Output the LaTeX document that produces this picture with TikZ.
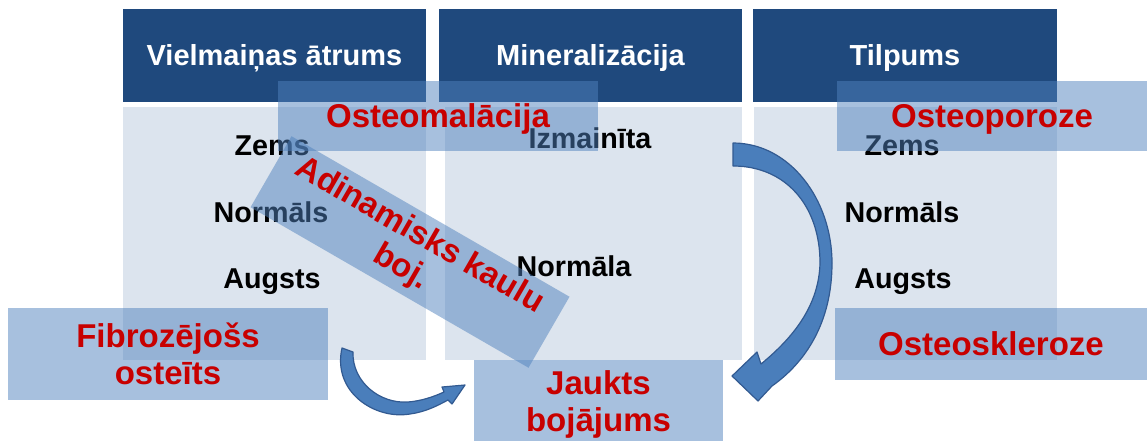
\documentclass[tikz,border=0pt]{standalone}
\usepackage{fontspec}
\setmainfont{Liberation Sans}
\definecolor{headblue}{RGB}{31,73,125}
\definecolor{bodyblue}{RGB}{220,228,238}
\definecolor{overblue}{RGB}{79,129,189}
\definecolor{txtred}{RGB}{200,0,0}
\definecolor{arrowblue}{RGB}{74,126,187}
\definecolor{arrowline}{RGB}{50,90,145}
\tikzset{
  head/.style={fill=headblue,text=white,font=\bfseries\fontsize{29}{34}\selectfont,
    minimum height=93pt,inner sep=0pt,text height=20.6pt,text depth=0pt},
  body/.style={fill=bodyblue,inner sep=0pt,minimum height=253pt},
  lbl/.style={font=\bfseries\fontsize{28.7}{34}\selectfont,text height=20.6pt,text depth=0pt,inner sep=0pt},
  sick/.style={fill=overblue,fill opacity=0.5,text opacity=1,text=txtred,
    font=\bfseries\fontsize{33}{37}\selectfont,align=center,inner sep=0pt},
  oneline/.style={text height=23.6pt,text depth=0pt},
  barrow/.style={fill=arrowblue,draw=arrowline,line width=1.2pt,line join=round}
}
\begin{document}
\begin{tikzpicture}[x=1pt,y=-1pt]
    \useasboundingbox (0,0) rectangle (1147,441);
    \node[body,minimum width=303pt] (body1) at (274.5,233.5) {};
    \node[body,minimum width=297pt] (body2) at (593.5,233.5) {};
    \node[body,minimum width=303pt] (body3) at (905.5,233.5) {};
    \node[head,minimum width=303pt] (head1) at (274.5,55.5) {Vielmaiņas ātrums};
    \node[head,minimum width=303pt] (head2) at (590.5,55.5) {Mineralizācija};
    \node[head,minimum width=304pt] (head3) at (905,55.5) {Tilpums};
    \node[lbl] (zems1) at (272,145) {Zems};
    \node[lbl] (norm1) at (271,212) {Normāls};
    \node[lbl] (augs1) at (272,278) {Augsts};
    \node[lbl] (izm2) at (590,138) {Izmainīta};
    \node[lbl] (norm2) at (574,266) {Normāla};
    \node[lbl] (zems3) at (902,145) {Zems};
    \node[lbl] (norm3) at (902,212) {Normāls};
    \node[lbl] (augs3) at (903,278) {Augsts};
    \coordinate (rtail) at (733,143);
    \coordinate (rtip) at (732,376);
    \draw[barrow] (rtail) .. controls (790,143) and (832,200) .. (832,263)
      .. controls (832,322) and (806,362) .. (772,386) -- (758,401) -- (rtip)
      -- (757,352) -- (761,364) .. controls (794,337) and (819,305) .. (820,263)
      .. controls (820,205) and (785,166) .. (733,166) -- cycle;
    \coordinate (ltail) at (342,348);
    \coordinate (ltip) at (465,385);
    \draw[barrow] (ltail) .. controls (332,392) and (375,420) .. (410,414)
      .. controls (425,412) and (437,406) .. (448,400) -- (452,404) -- (ltip)
      -- (442,387) -- (444,392) .. controls (433,397) and (421,401) .. (408,402)
      .. controls (380,404) and (352,382) .. (353,352) -- cycle;
    \node[sick,oneline,minimum width=320pt,minimum height=70pt] (malac) at (438,116) {Osteomalācija};
    \node[sick,oneline,minimum width=310pt,minimum height=70pt] (poroz) at (992,116) {Osteoporoze};
    \node[sick,oneline,minimum width=312pt,minimum height=72pt] (sklero) at (991,344) {Osteoskleroze};
    \node[sick,minimum width=320pt,minimum height=92pt] (fibro) at (168,354) {Fibrozējošs\\osteīts};
    \node[sick,minimum width=249pt,minimum height=89pt] (jaukts) at (598.5,404.5) {Jaukts\\bojājums};
    \node[sick,minimum width=321pt,minimum height=82pt,rotate=-30] (adin) at (410,252) {Adinamisks kaulu\\boj.};
\end{tikzpicture}
\end{document}
